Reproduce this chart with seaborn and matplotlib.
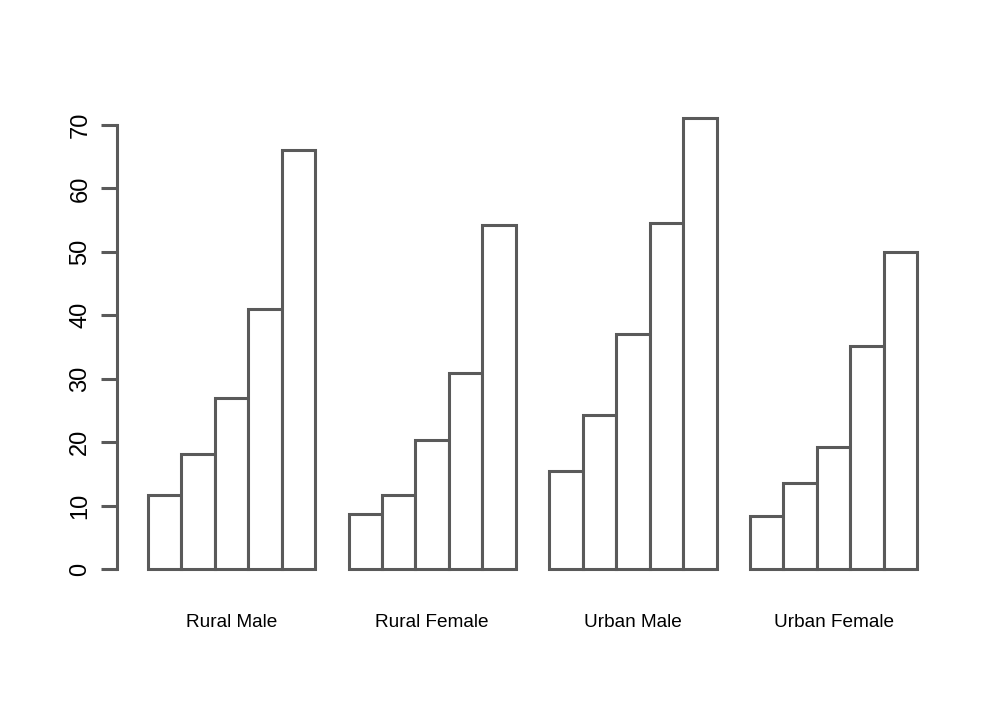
import pandas as pd
import matplotlib
matplotlib.use("Agg")
import matplotlib.pyplot as plt
import seaborn as sns

# VADeaths-style death rates per 1000, by age group
groups = ["Rural Male", "Rural Female", "Urban Male", "Urban Female"]
ages = ["50-54", "55-59", "60-64", "65-69", "70-74"]
rural_male = [11.7, 18.1, 26.9, 41.0, 66.0]
rural_female = [8.7, 11.7, 20.3, 30.9, 54.3]
urban_male = [15.4, 24.3, 37.0, 54.6, 71.1]
urban_female = [8.4, 13.6, 19.3, 35.1, 50.0]
yticks = [0, 10, 20, 30, 40, 50, 60, 70]

rows = []
for g, vals in zip(groups, [rural_male, rural_female, urban_male, urban_female]):
    for a, v in zip(ages, vals):
        rows.append({"group": g, "age": a, "rate": v})
df = pd.DataFrame(rows)

sns.set_style("white")
plt.rcParams["font.family"] = ["Liberation Sans", "DejaVu Sans"]
plt.rcParams["text.color"] = "black"
plt.rcParams["xtick.labelcolor"] = "black"
plt.rcParams["ytick.labelcolor"] = "black"

edge = "#5a5a5a"
lw = 2.2

fig = plt.figure(figsize=(10.08, 7.2), dpi=100)
ax = fig.add_axes([0.1161, 0.1847, 0.8244, 0.6764])

sns.barplot(data=df, x="group", y="rate", hue="age", order=groups, hue_order=ages,
            palette=["white"] * 5, saturation=1, width=5 / 6, gap=0,
            edgecolor=edge, linewidth=lw, legend=False, errorbar=None, ax=ax)

ax.set_xlim(-0.57, 3.57)
ax.set_ylim(-2.844, 73.944)
ax.set_xlabel("")
ax.set_ylabel("")

for s in ["top", "right", "bottom"]:
    ax.spines[s].set_visible(False)
ax.spines["left"].set_bounds(0, 70)
ax.spines["left"].set_color(edge)
ax.spines["left"].set_linewidth(lw)

ax.set_yticks(yticks)
ax.set_yticklabels([str(t) for t in yticks])
ax.tick_params(axis="y", length=11.5, width=lw, color=edge, pad=7,
               labelsize=17, labelrotation=90, left=True, labelcolor="black")
for lab in ax.get_yticklabels():
    lab.set_va("center")
ax.tick_params(axis="x", length=0, pad=19.5, labelsize=13.7, labelcolor="black")

fig.savefig("out.png", dpi=100, facecolor="white")
